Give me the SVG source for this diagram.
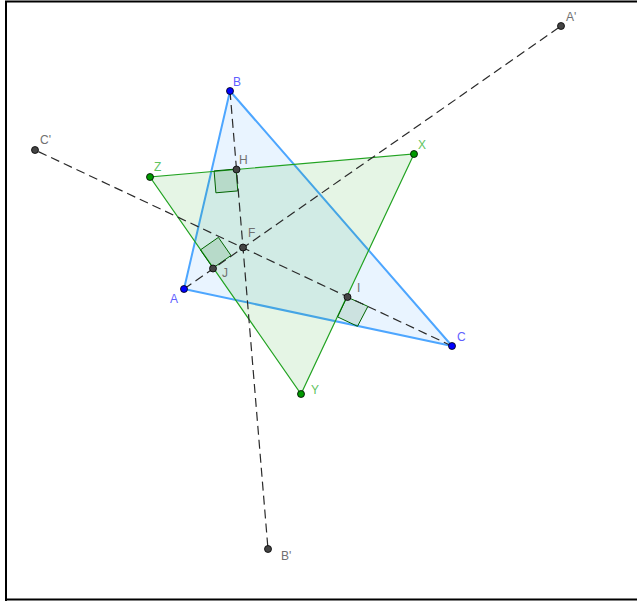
<svg xmlns="http://www.w3.org/2000/svg" width="637" height="601" viewBox="0 0 637 601">
<style>
.lbl{font-family:"Liberation Sans",Arial,sans-serif;font-size:12px}
.bl{fill:#5f5fff}.gl{fill:#5fc45f}.gy{fill:#707070}
.dash{stroke:#2a2a2a;stroke-width:1.2;stroke-dasharray:9,5;fill:none}
.ra{fill:#006400;fill-opacity:0.12;stroke:#006400;stroke-width:1}
.pb{fill:#0000ff;stroke:#000;stroke-width:0.8}
.pg{fill:#009900;stroke:#000;stroke-width:0.8}
.pd{fill:#444;stroke:#000;stroke-width:0.8}
</style>
<rect width="637" height="601" fill="#fff"/>
<g id="frame" stroke="#000" stroke-width="2" fill="none">
<line x1="6" y1="1" x2="6" y2="601"/>
<line x1="5" y1="1.5" x2="637" y2="1.5"/>
<line x1="5" y1="599.5" x2="637" y2="599.5"/>
</g>
<g id="triangleABC">
<polygon points="184,289 230,91 452,346" fill="#99ccff" fill-opacity="0.22" stroke="#4da6ff" stroke-width="2" stroke-linejoin="round"/>
</g>
<g id="triangleXYZ">
<polygon points="414,154 301,394 150,177" fill="#009900" fill-opacity="0.1" stroke="#22a322" stroke-width="1.2"/>
</g>
<g id="rightangles">
<polygon class="ra" points="236,169 214.1,170.9 215.9,192.8 237.8,190.9"/>
<polygon class="ra" points="213,268 200.4,249.9 218.4,237.4 231,255.5"/>
<polygon class="ra" points="347,297 367.9,306.4 357.5,326.3 337.6,316.9"/>
</g>
<g id="connectors">
<line class="dash" x1="184" y1="289" x2="561" y2="26"/>
<line class="dash" x1="230" y1="91" x2="268" y2="549"/>
<line class="dash" x1="452" y1="346" x2="35" y2="150"/>
</g>
<g id="A"><circle class="pb" cx="184" cy="289" r="3.5"/><text class="lbl bl" x="170" y="303">A</text></g>
<g id="B"><circle class="pb" cx="230" cy="91" r="3.5"/><text class="lbl bl" x="233" y="86">B</text></g>
<g id="C"><circle class="pb" cx="452" cy="346" r="3.5"/><text class="lbl bl" x="457" y="341">C</text></g>
<g id="X"><circle class="pg" cx="414" cy="154" r="3.5"/><text class="lbl gl" x="418" y="149">X</text></g>
<g id="Y"><circle class="pg" cx="301" cy="394" r="3.5"/><text class="lbl gl" x="311" y="394">Y</text></g>
<g id="Z"><circle class="pg" cx="150" cy="177" r="3.5"/><text class="lbl gl" x="154" y="171">Z</text></g>
<g id="H"><circle class="pd" cx="236.5" cy="169.5" r="3.5"/><text class="lbl gy" x="239" y="164">H</text></g>
<g id="F"><circle class="pd" cx="243" cy="247.5" r="3.5"/><text class="lbl gy" x="248" y="237">F</text></g>
<g id="J"><circle class="pd" cx="213" cy="268.5" r="3.5"/><text class="lbl gy" x="222" y="277">J</text></g>
<g id="I"><circle class="pd" cx="347.5" cy="297" r="3.5"/><text class="lbl gy" x="357" y="292">I</text></g>
<g id="A1"><circle class="pd" cx="561" cy="26" r="3.5"/><text class="lbl gy" x="566" y="21">A'</text></g>
<g id="B1"><circle class="pd" cx="268" cy="549" r="3.5"/><text class="lbl gy" x="281" y="560">B'</text></g>
<g id="C1"><circle class="pd" cx="35" cy="150" r="3.5"/><text class="lbl gy" x="40" y="144">C'</text></g>
</svg>
